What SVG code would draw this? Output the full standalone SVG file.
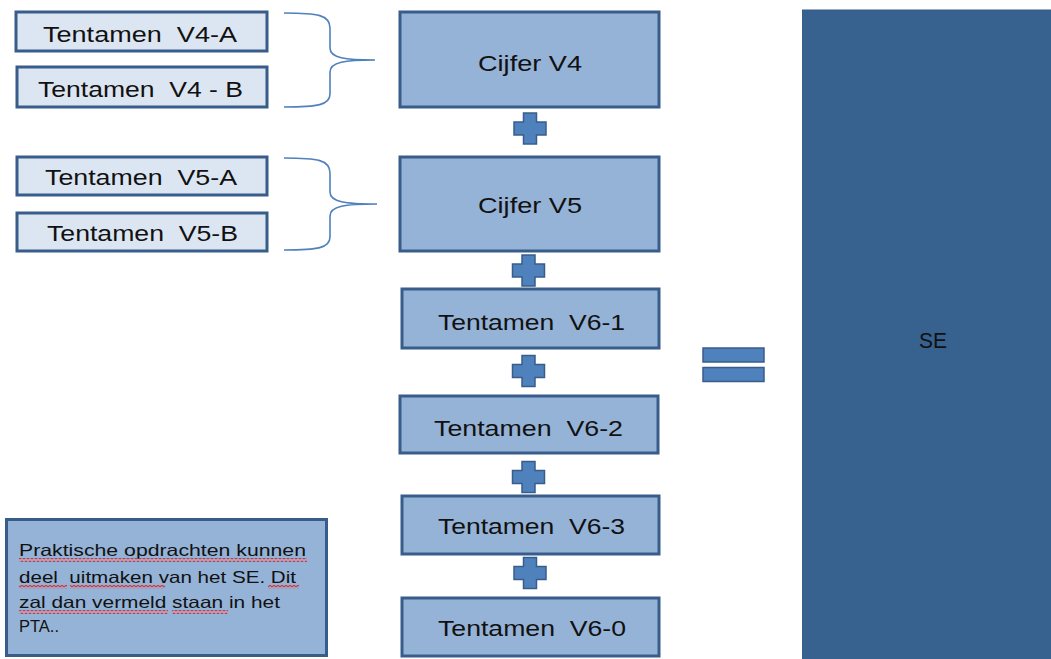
<svg xmlns="http://www.w3.org/2000/svg" width="1051" height="659" viewBox="0 0 1051 659">
<style>
.light{fill:#dce6f2;stroke:#385d8a;stroke-width:3}
.mid{fill:#95b3d7;stroke:#385d8a;stroke-width:3}
.op{fill:#4f81bd;stroke:#385d8a;stroke-width:1.5}
.brace{fill:none;stroke:#4f81bd;stroke-width:1.6}
.t{font-family:"Liberation Sans",Arial,sans-serif;font-size:22px;fill:#111;text-anchor:start;white-space:pre}
.n{font-family:"Liberation Sans",Arial,sans-serif;font-size:16.5px;fill:#111;white-space:pre}
</style>
<defs>
<path id="plus" d="M-6.5,-15.5 H6.5 V-6.5 H16 V6.5 H6.5 V15.5 H-6.5 V6.5 H-16 V-6.5 H-6.5 Z"/>
<pattern id="squig" width="4" height="4" patternUnits="userSpaceOnUse">
<path d="M0,3 L2,1 L4,3" fill="none" stroke="#e53030" stroke-width="1.2"/>
</pattern>
</defs>
<rect width="1051" height="659" fill="#fff"/>

<g id="se">
<rect x="802.5" y="10" width="260" height="660" fill="#37618f" stroke="#385d8a" stroke-width="1"/>
<text class="t" x="919" y="348" textLength="28" lengthAdjust="spacingAndGlyphs">SE</text>
</g>

<g id="tentamen-v4-a"><rect class="light" x="16" y="12" width="251" height="39"/><text class="t" x="43" y="42" textLength="194" lengthAdjust="spacingAndGlyphs">Tentamen  V4-A</text></g>
<g id="tentamen-v4-b"><rect class="light" x="17" y="67" width="250" height="40"/><text class="t" x="38" y="97" textLength="205" lengthAdjust="spacingAndGlyphs">Tentamen  V4 - B</text></g>
<g id="tentamen-v5-a"><rect class="light" x="17" y="157" width="250" height="38"/><text class="t" x="45" y="185" textLength="192" lengthAdjust="spacingAndGlyphs">Tentamen  V5-A</text></g>
<g id="tentamen-v5-b"><rect class="light" x="17" y="213" width="250" height="38"/><text class="t" x="47" y="241" textLength="191" lengthAdjust="spacingAndGlyphs">Tentamen  V5-B</text></g>

<g id="cijfer-v4"><rect class="mid" x="400" y="12" width="259" height="95"/><text class="t" x="478" y="71" textLength="104" lengthAdjust="spacingAndGlyphs">Cijfer V4</text></g>
<g id="cijfer-v5"><rect class="mid" x="400" y="157" width="259" height="94"/><text class="t" x="478" y="213" textLength="104" lengthAdjust="spacingAndGlyphs">Cijfer V5</text></g>
<g id="tentamen-v6-1"><rect class="mid" x="402" y="289" width="257" height="59"/><text class="t" x="438" y="330" textLength="187" lengthAdjust="spacingAndGlyphs">Tentamen  V6-1</text></g>
<g id="tentamen-v6-2"><rect class="mid" x="400" y="396" width="258" height="57"/><text class="t" x="434" y="436" textLength="189" lengthAdjust="spacingAndGlyphs">Tentamen  V6-2</text></g>
<g id="tentamen-v6-3"><rect class="mid" x="402" y="496" width="257" height="58"/><text class="t" x="438" y="534" textLength="187" lengthAdjust="spacingAndGlyphs">Tentamen  V6-3</text></g>
<g id="tentamen-v6-0"><rect class="mid" x="402" y="598" width="257" height="58"/><text class="t" x="438" y="636" textLength="188" lengthAdjust="spacingAndGlyphs">Tentamen  V6-0</text></g>

<g id="note">
<rect class="mid" x="6.5" y="519.5" width="320" height="136"/>
<text class="n" x="19" y="556" textLength="287" lengthAdjust="spacingAndGlyphs">Praktische opdrachten kunnen</text>
<text class="n" x="19" y="583" textLength="277" lengthAdjust="spacingAndGlyphs">deel  uitmaken van het SE. Dit</text>
<text class="n" x="19" y="608" textLength="261" lengthAdjust="spacingAndGlyphs">zal dan vermeld staan in het</text>
<text class="n" x="19" y="632">PTA..</text>
<g fill="url(#squig)">
<rect x="19" y="558" width="288" height="4"/>
<rect x="19" y="585" width="48" height="4"/>
<rect x="70" y="585" width="95" height="4"/>
<rect x="268" y="585" width="31" height="4"/>
<rect x="19" y="610" width="149" height="4"/>
<rect x="172" y="610" width="56" height="4"/>
</g>
</g>

<g id="connectors">
<path class="brace" d="M284,13 C318,13 330,15 330,28 L330,48 C330,58 345,60 375,60 C345,60 330,62 330,72 L330,94 C330,105 318,107 284,107"/>
<path class="brace" d="M284,158 C318,158 330,160 330,173 L330,192 C330,202 345,204 377,204 C345,204 330,206 330,216 L330,237 C330,248 318,250 284,250"/>
</g>

<g id="operators">
<use href="#plus" class="op" x="530" y="128.5"/>
<use href="#plus" class="op" x="528.5" y="270.5"/>
<use href="#plus" class="op" x="528.5" y="371"/>
<use href="#plus" class="op" x="528.5" y="477"/>
<use href="#plus" class="op" x="530" y="573"/>
<rect class="op" x="703" y="348" width="61" height="14"/>
<rect class="op" x="703" y="367.5" width="61" height="14"/>
</g>
</svg>
